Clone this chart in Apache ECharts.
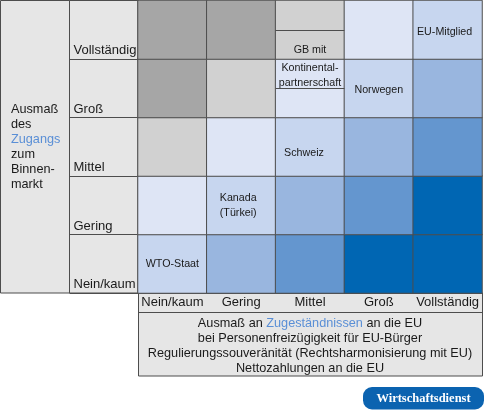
<!DOCTYPE html>
<html><head><meta charset="utf-8">
<script src="https://cdn.jsdelivr.net/npm/echarts@6/dist/echarts.min.js"></script>
<style>html,body{margin:0;padding:0;background:#fff}#c{width:485px;height:413px}</style>
</head><body><div id="c"></div>
<script>
// ---------- Daten ----------
const xCategories = ['Nein/kaum', 'Gering', 'Mittel', 'Groß', 'Vollständig'];
const yCategories = ['Nein/kaum', 'Gering', 'Mittel', 'Groß', 'Vollständig'];
// Farbstufe je Zelle (Spalten = xCategories), Zeilen von unten nach oben
const levelNeinKaum     = [0, 1, 2, 3, 3];
const levelGering       = [-1, 0, 1, 2, 3];
const levelMittel       = [-2, -1, 0, 1, 2];
const levelGross        = [-3, -2, -1, 0, 1];
const levelVollstaendig = [-3, -3, -2, -1, 0];
const levelRows = [levelNeinKaum, levelGering, levelMittel, levelGross, levelVollstaendig];
const levels      = [-3, -2, -1, 0, 1, 2, 3];
const levelColors = ['#a6a6a6', '#d1d1d1', '#dee5f5', '#c7d6ef', '#99b6df', '#6496cf', '#0066b3'];
// Beschriftete Zellen
const cellLabelX    = ['Nein/kaum', 'Gering', 'Mittel', 'Groß', 'Vollständig'];
const cellLabelY    = ['Nein/kaum', 'Gering', 'Mittel', 'Groß', 'Vollständig'];
const cellLabelText = ['WTO-Staat', 'Kanada\n(Türkei)', 'Schweiz', 'Norwegen', 'EU-Mitglied'];
// GB-Kasten (zwischen zwei Zeilen in einer Spalte)
const gbColumn = 'Mittel';
const gbRows = ['Vollständig', 'Groß'];
const gbTextTop = 'GB mit';
const gbTextBottom = 'Kontinental-\npartnerschaft';
// Achsentitel
const yTitleLines = ['Ausmaß', 'des', 'Zugangs', 'zum', 'Binnen-', 'markt'];
const yTitleHighlight = 'Zugangs';
const xTitleLines = ['Ausmaß an {b|Zugeständnissen} an die EU', 'bei Personenfreizügigkeit für EU-Bürger',
  'Regulierungssouveränität (Rechtsharmonisierung mit EU)', 'Nettozahlungen an die EU'];
const sourceBadge = 'Wirtschaftsdienst';

// ---------- Stil ----------
const FONT = '"Liberation Sans", Arial, sans-serif';
const TXT = '#1a1a1a';
const LINE = '#4d4d4d';
const PANEL = '#e6e6e6';
const BLUE_TXT = '#5a8fd6';
const labelNudge = { 'Kanada\n(Türkei)': [-3, 0], 'Schweiz': [-6, 6], 'Norwegen': [0, 2], 'EU-Mitglied': [-3, 2] };

const heatData = [];
levelRows.forEach((row, yi) => row.forEach((lv, xi) => {
  const item = { value: [xi, yi, lv] };
  for (let k = 0; k < cellLabelText.length; k++) {
    if (xCategories.indexOf(cellLabelX[k]) === xi && yCategories.indexOf(cellLabelY[k]) === yi) {
      item.label = { show: true, formatter: cellLabelText[k], offset: labelNudge[cellLabelText[k]] || [0, 0] };
    }
  }
  heatData.push(item);
}));

const rich = {
  n: { color: TXT, fontSize: 12.7, fontFamily: FONT, lineHeight: 15 },
  b: { color: BLUE_TXT, fontSize: 12.7, fontFamily: FONT, lineHeight: 15 }
};
const yTitle = yTitleLines.map(s => s === yTitleHighlight ? '{b|' + s + '}' : '{n|' + s + '}').join('\n');
const xTitle = xTitleLines.map(s => s.indexOf('{b|') >= 0
  ? s.replace(/^(.*?)\{b\|(.*?)\}(.*)$/, '{n|$1}{b|$2}{n|$3}') : '{n|' + s + '}').join('\n');

const G = { left: 138, top: 0.5, right: 3, bottom: 120 };
const chart = echarts.init(document.getElementById('c'), null, { renderer: 'canvas' });
chart.setOption({
  animation: false,
  backgroundColor: '#fff',
  textStyle: { fontFamily: FONT },
  grid: G,
  graphic: [
    { type: 'rect', z: -10, shape: { x: 0.5, y: 0.5, width: 69, height: 292.5 }, style: { fill: PANEL, stroke: LINE, lineWidth: 1 } },
    { type: 'rect', z: -10, shape: { x: 69.5, y: 0.5, width: 68.5, height: 292.5 }, style: { fill: PANEL, stroke: LINE, lineWidth: 1 } },
    { type: 'rect', z: -10, shape: { x: 138.5, y: 293, width: 344, height: 83 }, style: { fill: PANEL, stroke: LINE, lineWidth: 1 } },
    { type: 'line', z: -9, shape: { x1: 138.5, y1: 312.5, x2: 482.5, y2: 312.5 }, style: { stroke: LINE, lineWidth: 1 } },
    { type: 'group', left: 363, top: 387, children: [
      { type: 'rect', shape: { x: 0, y: 0, width: 121, height: 22.5, r: 9 }, style: { fill: '#0b63b0' } },
      { type: 'text', x: 60.5, y: 11.5, style: { text: sourceBadge, fill: '#fff', font: 'bold 12.5px "Liberation Serif", serif', align: 'center', verticalAlign: 'middle' } }
    ] }
  ],
  xAxis: {
    type: 'category', data: xCategories, position: 'bottom',
    axisLine: { show: true, lineStyle: { color: LINE } },
    axisTick: { show: false }, splitLine: { show: false },
    axisLabel: { color: TXT, fontSize: 13, fontFamily: FONT, margin: 3, interval: 0 },
    name: xTitle, nameLocation: 'middle', nameGap: 52.5,
    nameTextStyle: { align: 'center', verticalAlign: 'middle', rich: rich }
  },
  yAxis: {
    type: 'category', data: yCategories,
    axisLine: { show: true, lineStyle: { color: LINE } },
    axisTick: { show: true, length: 68.5, lineStyle: { color: LINE } },
    splitLine: { show: false },
    axisLabel: {
      align: 'left', margin: 64.5, verticalAlign: 'middle', interval: 0,
      formatter: v => '{r|' + v + '}',
      rich: { r: { color: TXT, fontSize: 13, fontFamily: FONT, lineHeight: 15, padding: [42, 0, 0, 0] } }
    },
    name: yTitle, nameLocation: 'middle', nameGap: 127, nameRotate: 0,
    nameTextStyle: { align: 'left', verticalAlign: 'middle', rich: rich }
  },
  visualMap: {
    type: 'piecewise', show: false, dimension: 2, seriesIndex: 0,
    pieces: levels.map((l, i) => ({ value: l, color: levelColors[i] }))
  },
  series: [
    {
      type: 'heatmap', data: heatData,
      itemStyle: { borderColor: LINE, borderWidth: 1 },
      label: { show: false, color: TXT, fontSize: 10.7, fontFamily: FONT, lineHeight: 15 },
      emphasis: { disabled: true }
    },
    {
      type: 'custom', z: 5, silent: true,
      data: [[xCategories.indexOf(gbColumn), yCategories.indexOf(gbRows[0]), yCategories.indexOf(gbRows[1])]],
      renderItem: function (params, api) {
        const pTop = api.coord([api.value(0), api.value(1)]);
        const pBot = api.coord([api.value(0), api.value(2)]);
        const w = api.size([1, 1])[0];
        const x1 = pTop[0] - w / 2, x2 = pTop[0] + w / 2;
        const yTop = Math.round(pTop[1]) + 0.5, yBot = Math.round(pBot[1]) + 0.5;
        const mid = (pTop[1] + pBot[1]) / 2;
        return {
          type: 'group', children: [
            { type: 'line', shape: { x1: x1, y1: yTop, x2: x2, y2: yTop }, style: { stroke: LINE, lineWidth: 1 } },
            { type: 'line', shape: { x1: x1, y1: yBot, x2: x2, y2: yBot }, style: { stroke: LINE, lineWidth: 1 } },
            { type: 'text', x: pTop[0], y: mid - 3, style: { text: gbTextTop, fill: TXT, font: '10.7px ' + FONT, align: 'center', verticalAlign: 'bottom' } },
            { type: 'text', x: pTop[0], y: mid + 2, style: { text: gbTextBottom, fill: TXT, font: '10.7px ' + FONT, align: 'center', verticalAlign: 'top', lineHeight: 15 } }
          ]
        };
      }
    }
  ]
});
</script></body></html>
